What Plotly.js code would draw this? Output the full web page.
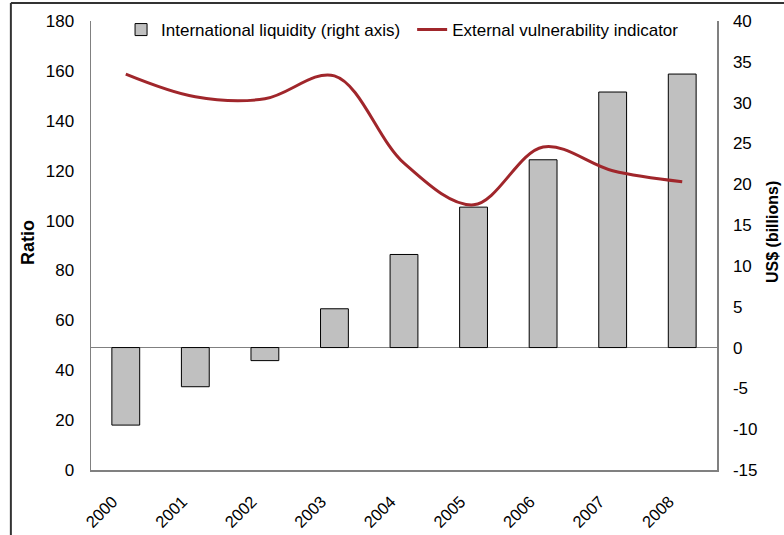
<!DOCTYPE html>
<html>
<head>
<meta charset="utf-8">
<script src="https://cdn.plot.ly/plotly-3.0.1.min.js"></script>
<style>html,body{margin:0;padding:0;background:#fff;}#chart{width:784px;height:535px;}</style>
</head>
<body>
<div id="chart"></div>
<script>
var years = ["2000","2001","2002","2003","2004","2005","2006","2007","2008"];
var liquidity = [-9.5, -4.8, -1.6, 4.75, 11.4, 17.2, 23.0, 31.3, 33.5];
var vulnerability = [158.7, 149.6, 148.8, 158.0, 123.0, 106.3, 129.5, 120.0, 115.6];
var leftTicks = [0, 20, 40, 60, 80, 100, 120, 140, 160, 180];
var rightTicks = [-15, -10, -5, 0, 5, 10, 15, 20, 25, 30, 35, 40];

var FONT = "'Liberation Sans Narrow', 'Arial Narrow', 'Liberation Sans', Arial, sans-serif";

var traces = [
  {
    type: "bar", name: "International liquidity (right axis)",
    x: years, y: liquidity, yaxis: "y", width: 0.4, legend: "legend",
    marker: {color: "#C0C0C0", line: {color: "#000000", width: 1}}
  },
  {
    type: "scatter", mode: "lines", name: "External vulnerability indicator",
    x: years, y: vulnerability, yaxis: "y2", legend: "legend2",
    line: {color: "#A0262B", width: 3, shape: "spline", smoothing: 1}
  }
];

var legendFont = {family: FONT, size: 17, color: "#000"};
var layout = {
  width: 784, height: 535,
  margin: {l: 91, r: 67, t: 21, b: 65},
  paper_bgcolor: "#ffffff", plot_bgcolor: "#ffffff",
  font: {family: FONT, size: 17, color: "#000"},
  showlegend: true,
  legend: {orientation: "h", x: 0.048, xanchor: "left", y: 1.02, yanchor: "top",
           font: legendFont, bgcolor: "rgba(0,0,0,0)"},
  legend2: {orientation: "h", x: 0.513, xanchor: "left", y: 1.02, yanchor: "top",
           font: legendFont, bgcolor: "rgba(0,0,0,0)"},
  xaxis: {type: "category", range: [-0.5, 8.5], showline: true, linecolor: "#808080", linewidth: 1.5,
          ticks: "", tickangle: -45, tickfont: {family: FONT, size: 16.5},
          ticklabelstandoff: 14, ticklabelshift: -13, showgrid: false, zeroline: false},
  yaxis: {side: "right", range: [-15, 40], tickvals: rightTicks, ticktext: rightTicks.map(String),
          showline: true, linecolor: "#808080", linewidth: 1.5, ticks: "", showgrid: false,
          zeroline: true, zerolinecolor: "#808080", zerolinewidth: 1.5,
          tickfont: {family: FONT, size: 17}, ticklabelstandoff: 11},
  yaxis2: {side: "left", overlaying: "y", range: [0, 180], tickvals: leftTicks,
           showline: true, linecolor: "#808080", linewidth: 1.5, ticks: "", showgrid: false, zeroline: false,
           tickfont: {family: FONT, size: 17}, ticklabelstandoff: 12},
  annotations: [
    {text: "<b>Ratio</b>", xref: "paper", yref: "paper", x: (28 - 91) / 626, y: (470 - 243) / 449,
     xanchor: "center", yanchor: "middle", textangle: -90, showarrow: false,
     font: {family: FONT, size: 18, color: "#000"}},
    {text: "<b>US$ (billions)</b>", xref: "paper", yref: "paper", x: (772 - 91) / 626, y: (470 - 232) / 449,
     xanchor: "center", yanchor: "middle", textangle: -90, showarrow: false,
     font: {family: FONT, size: 16, color: "#000"}}
  ],
  shapes: [
    {type: "line", xref: "paper", yref: "paper", x0: -0.128, x1: 1.12, y0: 1.0401, y1: 1.0401,
     line: {color: "#333333", width: 2}},
    {type: "line", xref: "paper", yref: "paper", x0: -0.128, x1: -0.128, y0: 1.0401, y1: -0.16,
     line: {color: "#333333", width: 2}}
  ]
};

Plotly.newPlot("chart", traces, layout, {displayModeBar: false, staticPlot: true});
</script>
</body>
</html>
